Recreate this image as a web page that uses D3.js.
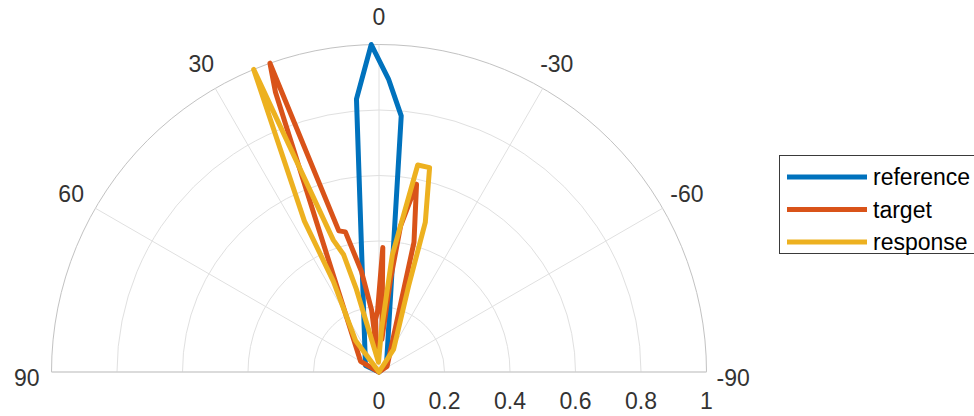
<!DOCTYPE html>
<html>
<head>
<meta charset="utf-8">
<script src="https://cdn.jsdelivr.net/npm/d3@7"></script>
<style>
  html, body { margin: 0; padding: 0; background: #fff; }
  svg { display: block; font-family: "Liberation Sans", Arial, Helvetica, sans-serif; }
</style>
</head>
<body>
<svg id="chart" width="974" height="416"></svg>
<script>
// Angular ticks (degrees, positive = counter-clockwise from the top) and radial ticks
const thetaTicks = [-90, -60, -30, 0, 30, 60, 90];
const rTicks = [0, 0.2, 0.4, 0.6, 0.8, 1];

const seriesNames = ["reference", "target", "response"];
const seriesColors = ["#0072BD", "#D95319", "#EDB120"];

// reference pattern
const referenceTheta = [-90, -49, -4.96, -1.86, 1.36, 4.72, 64, 90];
const referenceR     = [0, 0.03, 0.785, 0.895, 1.0, 0.836, 0.046, 0];

// target pattern
const targetTheta = [-90, -55, -15.1, -11.3, -8.4, -7.1, -5, -1.75, 1.4, 3.8, 6.3, 6.8, 9.9, 13.5, 15.9, 19.45, 20.3, 60, 90];
const targetR     = [0, 0.03, 0.41, 0.585, 0.45, 0.285, 0.1, 0.38, 0.185, 0.161, 0.07, 0.19, 0.312, 0.44, 0.448, 1.0, 0.911, 0.065, 0];

// response pattern
const responseTheta = [-90, -32.8, -19, -17.2, -13.9, -10.6, -6.5, -3.4, 3, 15.3, 16.8, 19.1, 22.5, 26.3, 26.7, 36.7, 90];
const responseR     = [0, 0.082, 0.277, 0.478, 0.643, 0.643, 0.36, 0.13, 0.03, 0.262, 0.375, 0.426, 1.0, 0.514, 0.31, 0.12, 0];

const seriesTheta = [referenceTheta, targetTheta, responseTheta];
const seriesR = [referenceR, targetR, responseR];

const cx = 379, cy = 372, R = 327.5;
const svg = d3.select("#chart");
const g = svg.append("g").attr("transform", `translate(${cx},${cy})`);

const rScale = d3.scaleLinear().domain([0, 1]).range([0, R]);
// screen angle for d3 radial helpers: clockwise from 12 o'clock, radians
const toAngle = t => -t * Math.PI / 180;

// rings
rTicks.filter(r => r > 0).forEach(r => {
  const p = d3.path();
  const rr = rScale(r);
  p.moveTo(-rr, 0);
  p.arc(0, 0, rr, Math.PI, 2 * Math.PI);
  g.append("path")
    .attr("d", p.toString())
    .attr("fill", "none")
    .attr("stroke", r === 1 ? "#c2c2c2" : "#e0e0e0")
    .attr("stroke-width", 1);
});

// spokes
thetaTicks.filter(t => Math.abs(t) < 90).forEach(t => {
  const a = toAngle(t);
  g.append("line")
    .attr("x1", 0).attr("y1", 0)
    .attr("x2", rScale(1) * Math.sin(a))
    .attr("y2", -rScale(1) * Math.cos(a))
    .attr("stroke", "#e0e0e0")
    .attr("stroke-width", 1);
});

// baseline through ±90
g.append("line")
  .attr("x1", -rScale(1)).attr("y1", 0)
  .attr("x2", rScale(1)).attr("y2", 0)
  .attr("stroke", "#cfcfcf")
  .attr("stroke-width", 1.5);

// angular tick labels
const labelColor = "#333333";
thetaTicks.forEach(t => {
  const a = toAngle(t);
  let x, y, anchor = "middle";
  if (t === 90) { x = -rScale(1) - 12; y = 6; anchor = "end"; }
  else if (t === -90) { x = rScale(1) + 10; y = 6; anchor = "start"; }
  else {
    const d = rScale(1) + 28;
    x = d * Math.sin(a);
    y = -d * Math.cos(a);
  }
  g.append("text")
    .attr("x", x).attr("y", y)
    .attr("text-anchor", anchor)
    .attr("dominant-baseline", "central")
    .attr("fill", labelColor)
    .attr("font-size", 23)
    .text(t);
});

// radial tick labels
rTicks.forEach(r => {
  g.append("text")
    .attr("x", rScale(r))
    .attr("y", 37)
    .attr("text-anchor", "middle")
    .attr("fill", labelColor)
    .attr("font-size", 23)
    .text(r);
});

// series lines
const radial = d3.lineRadial()
  .angle(d => toAngle(d[0]))
  .radius(d => rScale(d[1]));

seriesNames.forEach((name, i) => {
  const pts = seriesTheta[i].map((t, k) => [t, seriesR[i][k]]);
  g.append("path")
    .attr("d", radial(pts))
    .attr("fill", "none")
    .attr("stroke", seriesColors[i])
    .attr("stroke-width", 5)
    .attr("stroke-linejoin", "round")
    .attr("stroke-linecap", "round");
});

// legend
const legend = svg.append("g").attr("transform", "translate(779,155)");
legend.append("rect")
  .attr("x", 0.5).attr("y", 0.5)
  .attr("width", 230).attr("height", 98)
  .attr("fill", "#fff")
  .attr("stroke", "#3a3a3a")
  .attr("stroke-width", 1);
seriesNames.forEach((name, i) => {
  const y = 22 + i * 32.5;
  legend.append("line")
    .attr("x1", 8).attr("x2", 88)
    .attr("y1", y).attr("y2", y)
    .attr("stroke", seriesColors[i])
    .attr("stroke-width", 5);
  legend.append("text")
    .attr("x", 94).attr("y", y)
    .attr("dominant-baseline", "central")
    .attr("fill", "#000")
    .attr("font-size", 23)
    .text(name);
});
</script>
</body>
</html>
